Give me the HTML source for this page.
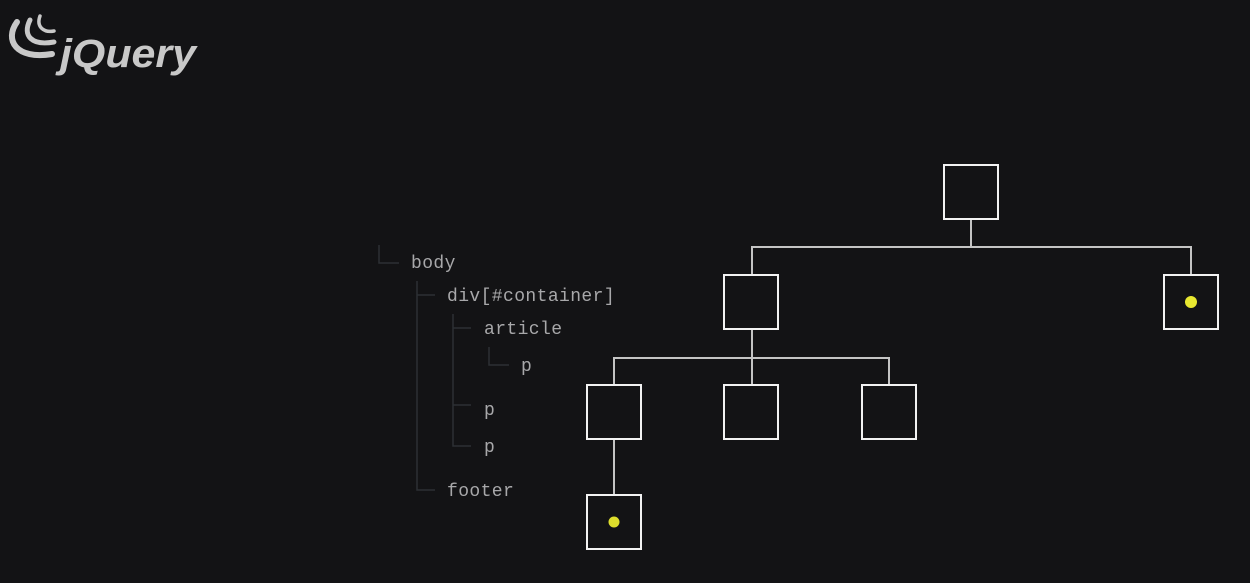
<!DOCTYPE html>
<html><head><meta charset="utf-8"><style>
html,body{margin:0;padding:0;background:#131315;width:1250px;height:583px;overflow:hidden}
svg{display:block}
</style></head><body>
<svg width="1250" height="583" viewBox="0 0 1250 583" xmlns="http://www.w3.org/2000/svg">
<rect width="1250" height="583" fill="#131315"/>
<!-- jQuery logo -->
<g fill="none" stroke="#c8c8c8" stroke-linecap="round">
<path d="M17 22 C4 40 16 60 52 54" stroke-width="6"/>
<path d="M30 20 C22 36 32 46 54 42" stroke-width="5"/>
<path d="M40 16 C36 27 44 33 54 31" stroke-width="3.5"/>
</g>
<text x="60" y="67" font-family="Liberation Sans, sans-serif" font-size="40" font-weight="bold" font-style="italic" fill="#c8c8c8" textLength="136" lengthAdjust="spacingAndGlyphs">jQuery</text>
<!-- tree lines -->
<g stroke="#2c3034" stroke-width="1.5" fill="none">
<path d="M379 245 V263 H399"/>
<path d="M417 281 V490 H435"/>
<path d="M417 295 H435"/>
<path d="M453 314 V446 H471"/>
<path d="M453 328 H471"/>
<path d="M453 405 H471"/>
<path d="M489 347 V365 H509"/>
</g>
<g font-family="Liberation Mono, DejaVu Sans Mono, monospace" font-size="18" fill="#a8a8aa" letter-spacing="0.4">
<text x="411" y="268">body</text>
<text x="447" y="301">div[#container]</text>
<text x="484" y="334">article</text>
<text x="521" y="371">p</text>
<text x="484" y="415">p</text>
<text x="484" y="452">p</text>
<text x="447" y="496">footer</text>
</g>
<!-- connectors -->
<g stroke="#c4c4c4" stroke-width="2" fill="none">
<path d="M971 219 V247"/>
<path d="M752 275 V247 H1191 V275"/>
<path d="M752 329 V385"/>
<path d="M614 385 V358 H889 V385"/>
<path d="M614 439 V495"/>
</g>
<g stroke="#f2f2f2" stroke-width="2" fill="none">
<rect x="944" y="165" width="54" height="54"/>
<rect x="724" y="275" width="54" height="54"/>
<rect x="1164" y="275" width="54" height="54"/>
<rect x="587" y="385" width="54" height="54"/>
<rect x="724" y="385" width="54" height="54"/>
<rect x="862" y="385" width="54" height="54"/>
<rect x="587" y="495" width="54" height="54"/>
</g>
<circle cx="1191" cy="302" r="6" fill="#e8e830"/>
<circle cx="614" cy="522" r="5.5" fill="#dede2c"/>
</svg>
</body></html>
